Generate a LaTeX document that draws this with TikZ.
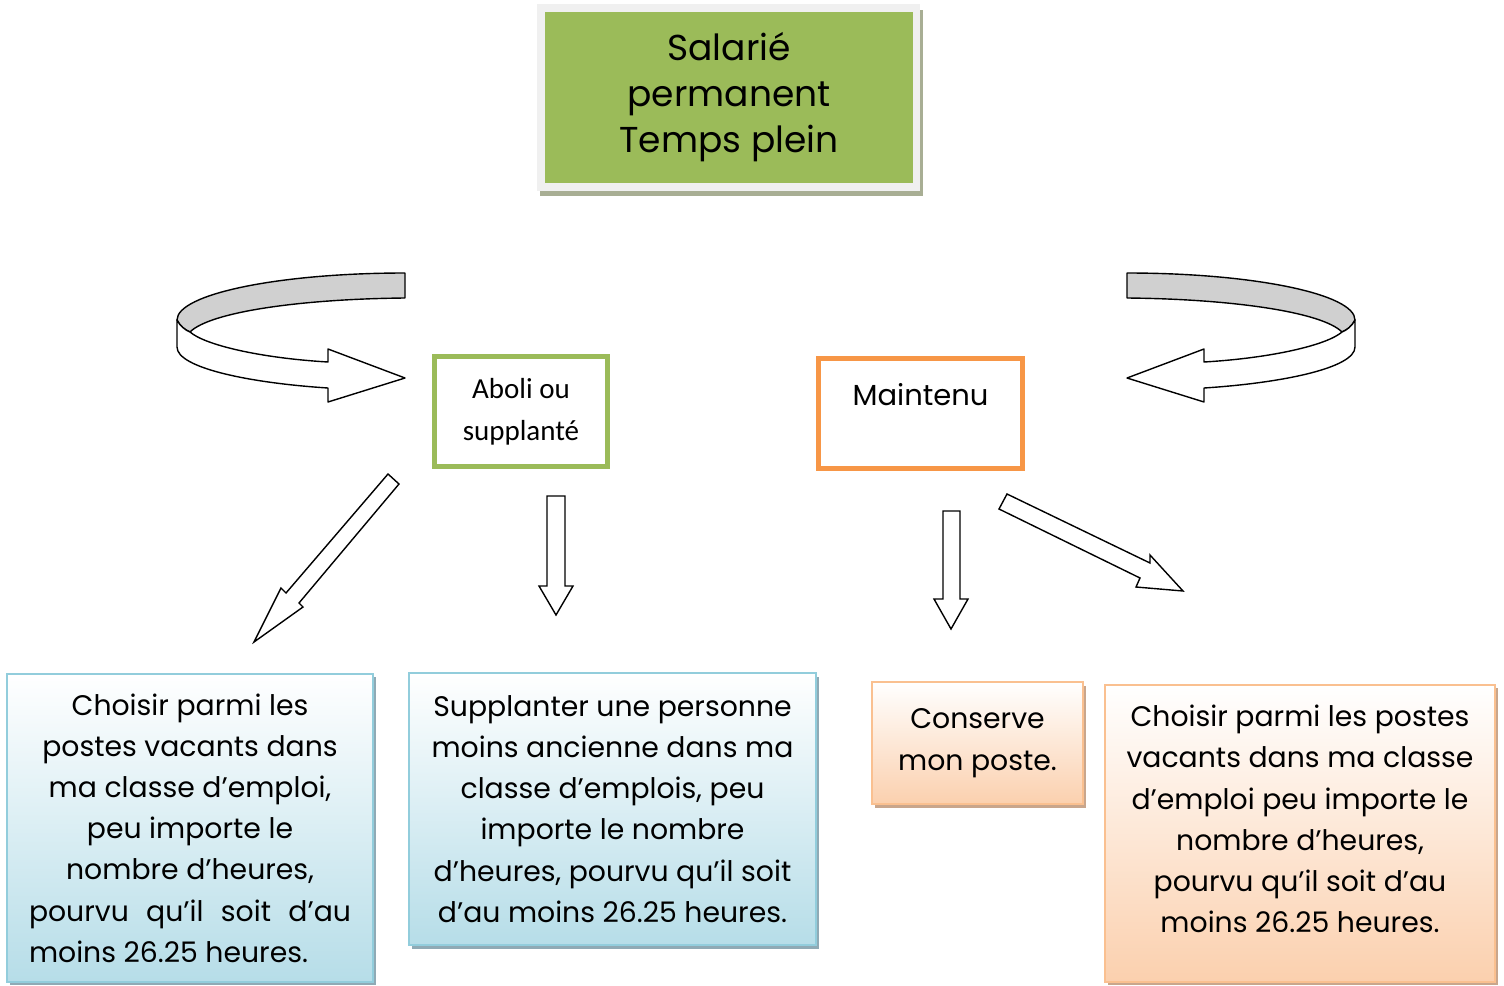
\documentclass[tikz,border=0pt]{standalone}
\usepackage{fontspec}
\setmainfont{Poppins}
\newfontfamily\calib{Carlito}
\definecolor{topgreen}{HTML}{9BBB59}
\definecolor{topshadow}{HTML}{A8AE94}
\definecolor{topframe}{HTML}{F0F0F0}
\definecolor{mainorange}{HTML}{F79646}
\definecolor{blueborder}{HTML}{92CDDC}
\definecolor{bluefill}{HTML}{B6DDE8}
\definecolor{blueshadow}{HTML}{8FAAB5}
\definecolor{orangeborder}{HTML}{FAC090}
\definecolor{orangefill}{HTML}{FBD0AE}
\definecolor{orangeshadow}{HTML}{C9A68C}
\definecolor{ribbongray}{HTML}{D0D0D0}
\begin{document}
\begin{tikzpicture}[x=1pt,y=-1pt,
  bodytext/.style={font=\fontsize{28.3}{41.2}\selectfont, align=center},
  bluebox/.style={draw=blueborder, line width=1.6pt, top color=white, bottom color=bluefill, inner sep=0pt},
  orangebox/.style={draw=orangeborder, line width=1.6pt, top color=white, bottom color=orangefill, inner sep=0pt},
  blockarrow/.style={draw=black, line width=1.4pt, fill=white, line join=miter},
  ribbon/.style={draw=black, line width=1.4pt, line join=round}]
\useasboundingbox (0,0) rectangle (1504,985);
\fill[white] (0,0) rectangle (1504,985);

% ---- top box
\fill[topshadow] (540,10) rectangle (923,196);
\fill[topframe] (537,4) rectangle (920,191);
\node[fill=topgreen, minimum width=368pt, minimum height=171pt, inner sep=0pt,
      font=\fontsize{36}{46}\selectfont, align=center] (salarie) at (729,97.5)
  {Salarié\\permanent\\Temps plein};

% ---- curved ribbon arrows
\begin{scope}
  \path[ribbon, fill=ribbongray] (405,273) .. controls (279,273) and (177,294) .. (177,320)
     .. controls (180,326) and (185,330) .. (190,332)
     .. controls (210,312) and (300,299) .. (405,298) -- cycle;
  \path[ribbon, fill=white] (177,320) -- (177,347) .. controls (177,368) and (250,383) .. (328,388)
     -- (328,402) -- (405,378) -- (328,349) -- (328,362)
     .. controls (260,358) and (205,345) .. (190,332)
     .. controls (185,330) and (180,326) .. (177,320) -- cycle;
\end{scope}
\begin{scope}[xshift=1532pt, xscale=-1]
  \path[ribbon, fill=ribbongray] (405,273) .. controls (279,273) and (177,294) .. (177,320)
     .. controls (180,326) and (185,330) .. (190,332)
     .. controls (210,312) and (300,299) .. (405,298) -- cycle;
  \path[ribbon, fill=white] (177,320) -- (177,347) .. controls (177,368) and (250,383) .. (328,388)
     -- (328,402) -- (405,378) -- (328,349) -- (328,362)
     .. controls (260,358) and (205,345) .. (190,332)
     .. controls (185,330) and (180,326) .. (177,320) -- cycle;
\end{scope}

% ---- middle boxes
\node[draw=topgreen, line width=5pt, minimum width=173pt, minimum height=110pt, inner sep=0pt,
      font=\calib\fontsize{29}{42}\selectfont, align=center] (aboli) at (521,411.5)
  {Aboli ou\\supplanté};
\node[draw=mainorange, line width=5pt, minimum width=204pt, minimum height=110pt, inner sep=0pt,
      align=center, font=\fontsize{29}{42}\selectfont] (maintenu) at (920.5,413.5)
  {Maintenu\\[-3pt]\mbox{}};

% ---- block arrows
\path[blockarrow] (388,474) -- (399,484) -- (299,603) -- (303,607) -- (254,642) -- (281,588) -- (286,593) -- cycle;
\path[blockarrow] (547,496) -- (565,496) -- (565,586) -- (573,586) -- (556,615) -- (539,586) -- (547,586) -- cycle;
\path[blockarrow] (943,511) -- (960,511) -- (960,599) -- (968,599) -- (951,629) -- (934,599) -- (943,599) -- cycle;
\path[blockarrow] (1007,494) -- (1150,563) -- (1150,555) -- (1183,591) -- (1136,587) -- (1140,578) -- (999,509) -- cycle;

% ---- bottom boxes
\fill[blueshadow] (10,677) rectangle (376,985);
\node[bluebox, minimum width=366pt, minimum height=308pt, bodytext] (choixA) at (190,828)
  {Choisir parmi les\\postes vacants dans\\ma classe d’emploi,\\peu importe le\\nombre d’heures,\\
   \makebox[322pt][s]{pourvu qu’il soit d’au}\\\makebox[322pt][l]{moins 26.25 heures.}};

\fill[blueshadow] (412,677) rectangle (819,949);
\node[bluebox, minimum width=407pt, minimum height=272pt, bodytext] (supplanter) at (612.5,809)
  {Supplanter une personne\\moins ancienne dans ma\\classe d’emplois, peu\\importe le nombre\\d’heures, pourvu qu’il soit\\d’au moins 26.25 heures.};

\fill[orangeshadow] (875,686) rectangle (1086,808);
\node[orangebox, minimum width=211pt, minimum height=122pt, bodytext] (conserve) at (977.5,743)
  {Conserve\\mon poste.\\[-34pt]\mbox{}};

\fill[orangeshadow] (1108,688) rectangle (1498,985);
\node[orangebox, minimum width=390pt, minimum height=297pt, bodytext] (choixD) at (1300,833.5)
  {Choisir parmi les postes\\vacants dans ma classe\\d’emploi peu importe le\\nombre d’heures,\\pourvu qu’il soit d’au\\moins 26.25 heures.\\[-12pt]\mbox{}};
\end{tikzpicture}
\end{document}
